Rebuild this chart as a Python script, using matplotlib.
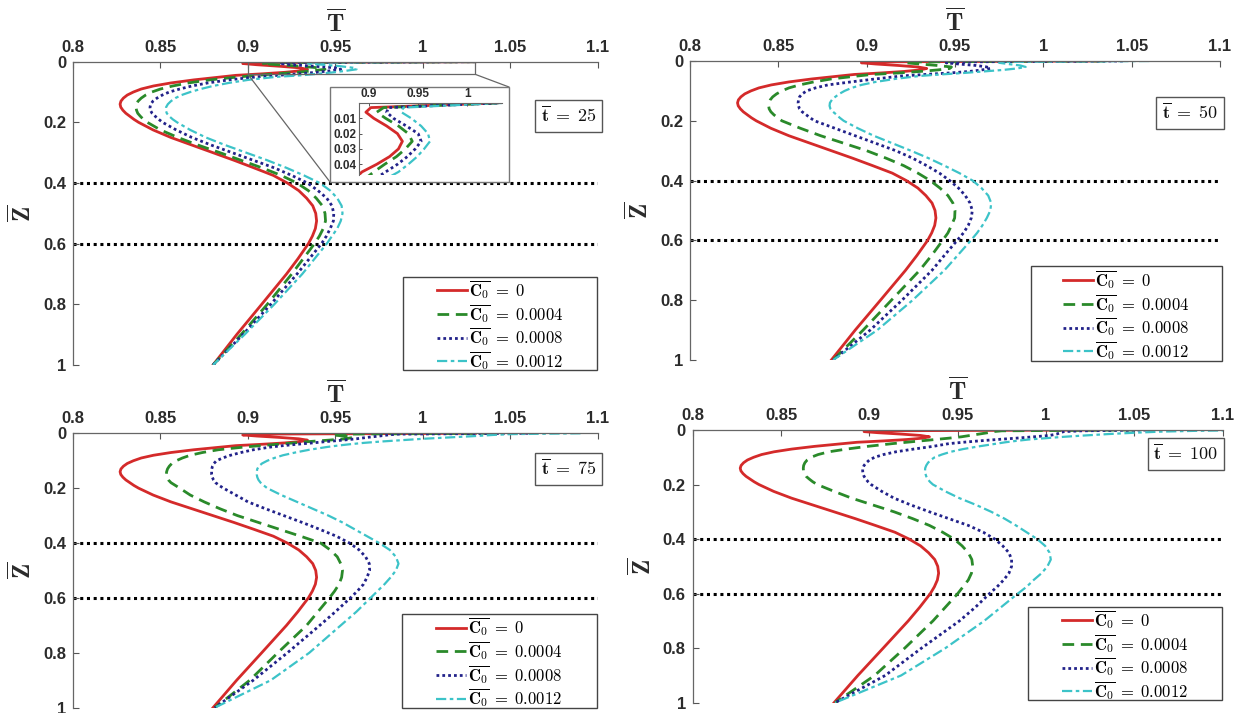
import matplotlib
matplotlib.use('Agg')
import matplotlib.pyplot as plt
from matplotlib.patches import Rectangle, ConnectionPatch

plt.rcParams['font.family'] = 'Liberation Sans'
plt.rcParams['mathtext.fontset'] = 'cm'

# dimensionless height through the layer
z_bar = [0, 0.003, 0.006, 0.01, 0.015, 0.02, 0.025, 0.03, 0.035, 0.04, 0.045,
         0.05, 0.06, 0.07, 0.08, 0.09, 0.1, 0.11, 0.12, 0.13, 0.14, 0.15, 0.16, 0.17, 0.18, 0.19,
         0.2, 0.225, 0.25, 0.275, 0.3, 0.325, 0.35, 0.375, 0.4, 0.425, 0.45, 0.475, 0.5,
         0.525, 0.55, 0.575, 0.6, 0.65, 0.7, 0.8, 0.9, 1.0]

# C0 = 0 profile (same at every time)
t_c0_0 = [1.03, 0.902, 0.897, 0.905, 0.918, 0.929, 0.934, 0.930, 0.921, 0.908, 0.893,
          0.885, 0.869, 0.856, 0.846, 0.839, 0.8345, 0.831, 0.8288, 0.8274, 0.8269, 0.8273, 0.8285, 0.8302, 0.8325, 0.8348,
          0.8375, 0.8458, 0.856, 0.868, 0.880, 0.892, 0.9034, 0.9145, 0.9225, 0.929, 0.9335, 0.937, 0.9387,
          0.9392, 0.9385, 0.9368, 0.9345, 0.9285, 0.922, 0.9078, 0.8935, 0.880]

# t = 25
green_25 = [1.03, 0.915, 0.908, 0.917, 0.930, 0.940, 0.944, 0.937, 0.928, 0.916, 0.905,
            0.895, 0.878, 0.866, 0.857, 0.850, 0.845, 0.8415, 0.839, 0.8372, 0.8362, 0.836, 0.8363, 0.837, 0.8385, 0.8402,
            0.8425, 0.850, 0.860, 0.8715, 0.884, 0.896, 0.908, 0.919, 0.928, 0.9345, 0.939, 0.9425, 0.944,
            0.9443, 0.943, 0.9408, 0.938, 0.9315, 0.925, 0.911, 0.896, 0.880]
blue_25 = [1.03, 0.920, 0.918, 0.925, 0.938, 0.950, 0.953, 0.947, 0.939, 0.929, 0.917,
           0.905, 0.889, 0.877, 0.868, 0.861, 0.855, 0.851, 0.848, 0.8457, 0.8444, 0.844, 0.8442, 0.8452, 0.847, 0.849,
           0.8512, 0.859, 0.868, 0.879, 0.891, 0.903, 0.915, 0.925, 0.934, 0.940, 0.945, 0.948, 0.949,
           0.9488, 0.947, 0.9448, 0.942, 0.935, 0.928, 0.913, 0.897, 0.880]
cyan_25 = [1.035, 0.935, 0.933, 0.943, 0.953, 0.960, 0.962, 0.956, 0.949, 0.940, 0.930,
           0.916, 0.900, 0.889, 0.880, 0.873, 0.867, 0.862, 0.8585, 0.856, 0.8542, 0.8532, 0.853, 0.8536, 0.855, 0.857,
           0.8595, 0.867, 0.876, 0.887, 0.899, 0.911, 0.922, 0.932, 0.941, 0.947, 0.951, 0.9535, 0.954,
           0.953, 0.951, 0.948, 0.945, 0.938, 0.931, 0.915, 0.898, 0.880]

# t = 50
green_50 = [1.035, 0.925, 0.922, 0.930, 0.940, 0.948, 0.947, 0.940, 0.930, 0.918, 0.903,
            0.895, 0.880, 0.870, 0.862, 0.856, 0.852, 0.849, 0.8468, 0.8454, 0.8447, 0.8445, 0.8448, 0.8458, 0.8475, 0.8497,
            0.852, 0.8625, 0.874, 0.887, 0.900, 0.911, 0.921, 0.929, 0.936, 0.9415, 0.946, 0.9488, 0.950,
            0.9498, 0.948, 0.946, 0.943, 0.9368, 0.930, 0.914, 0.898, 0.881]
blue_50 = [1.045, 0.950, 0.945, 0.952, 0.962, 0.968, 0.970, 0.965, 0.958, 0.947, 0.933,
           0.920, 0.905, 0.891, 0.878, 0.871, 0.866, 0.8635, 0.862, 0.8614, 0.8612, 0.8614, 0.862, 0.8635, 0.8658, 0.868,
           0.8705, 0.882, 0.8935, 0.905, 0.9165, 0.926, 0.934, 0.9412, 0.947, 0.952, 0.9558, 0.9585, 0.9598,
           0.9592, 0.9575, 0.9548, 0.9512, 0.944, 0.937, 0.920, 0.902, 0.881]
cyan_50 = [1.06, 0.980, 0.975, 0.980, 0.987, 0.990, 0.985, 0.977, 0.966, 0.955, 0.942,
           0.930, 0.916, 0.905, 0.897, 0.8915, 0.8875, 0.8845, 0.8822, 0.8803, 0.8792, 0.879, 0.8795, 0.881, 0.883, 0.8848,
           0.887, 0.895, 0.904, 0.9145, 0.925, 0.935, 0.944, 0.9525, 0.960, 0.965, 0.9688, 0.9705, 0.970,
           0.968, 0.9655, 0.9625, 0.959, 0.9515, 0.944, 0.926, 0.906, 0.881]

# t = 75
green_75 = [1.04, 0.950, 0.948, 0.955, 0.960, 0.956, 0.946, 0.935, 0.926, 0.917, 0.907,
            0.898, 0.883, 0.874, 0.867, 0.8625, 0.859, 0.8565, 0.855, 0.854, 0.8535, 0.8533, 0.8535, 0.8545, 0.856, 0.8585,
            0.861, 0.867, 0.875, 0.884, 0.894, 0.906, 0.918, 0.930, 0.9415, 0.947, 0.951, 0.953, 0.954,
            0.9535, 0.952, 0.9495, 0.9465, 0.940, 0.9335, 0.917, 0.901, 0.881]
blue_75 = [1.06, 0.985, 0.980, 0.975, 0.968, 0.962, 0.954, 0.945, 0.937, 0.928, 0.920,
           0.913, 0.903, 0.896, 0.890, 0.8855, 0.882, 0.8805, 0.8797, 0.8793, 0.8792, 0.8792, 0.8796, 0.8803, 0.8815, 0.8835,
           0.886, 0.893, 0.900, 0.910, 0.9205, 0.931, 0.941, 0.9505, 0.958, 0.9635, 0.9672, 0.9693, 0.9695,
           0.968, 0.966, 0.9625, 0.9585, 0.950, 0.941, 0.9225, 0.903, 0.881]
cyan_75 = [1.09, 1.05, 1.04, 1.03, 1.015, 1.0, 0.988, 0.976, 0.966, 0.958, 0.951,
           0.945, 0.935, 0.927, 0.920, 0.915, 0.911, 0.908, 0.9062, 0.9053, 0.905, 0.905, 0.9053, 0.906, 0.9072, 0.909,
           0.911, 0.919, 0.928, 0.937, 0.946, 0.954, 0.961, 0.968, 0.975, 0.981, 0.9845, 0.986, 0.9845,
           0.9815, 0.978, 0.974, 0.970, 0.962, 0.953, 0.935, 0.913, 0.881]

# t = 100
green_100 = [1.05, 0.975, 0.970, 0.967, 0.962, 0.957, 0.952, 0.945, 0.937, 0.929, 0.921,
             0.913, 0.899, 0.887, 0.877, 0.871, 0.867, 0.8648, 0.8635, 0.8628, 0.8626, 0.8627, 0.8632, 0.8642, 0.866, 0.868,
             0.8705, 0.880, 0.890, 0.902, 0.914, 0.9245, 0.934, 0.9415, 0.948, 0.9525, 0.956, 0.958, 0.9585,
             0.9578, 0.956, 0.953, 0.950, 0.943, 0.936, 0.920, 0.903, 0.8806]
blue_100 = [1.06, 1.02, 1.01, 1.008, 1.006, 1.002, 0.993, 0.983, 0.972, 0.962, 0.953,
            0.945, 0.936, 0.925, 0.915, 0.908, 0.903, 0.900, 0.8983, 0.8970, 0.8963, 0.8962, 0.8964, 0.897, 0.898, 0.8993,
            0.901, 0.907, 0.914, 0.9235, 0.934, 0.945, 0.956, 0.9645, 0.971, 0.9755, 0.979, 0.9805, 0.9805,
            0.979, 0.976, 0.9723, 0.968, 0.960, 0.951, 0.9295, 0.909, 0.8806]
cyan_100 = [1.12, 1.085, 1.065, 1.05, 1.035, 1.022, 1.01, 1.0, 0.99, 0.983, 0.977,
            0.972, 0.962, 0.953, 0.946, 0.941, 0.937, 0.9347, 0.9332, 0.9322, 0.9316, 0.9315, 0.9317, 0.9322, 0.933, 0.9343,
            0.936, 0.943, 0.951, 0.9605, 0.969, 0.9765, 0.983, 0.989, 0.995, 0.9995, 1.002, 1.0027, 1.0008,
            0.9975, 0.993, 0.989, 0.984, 0.9745, 0.965, 0.943, 0.918, 0.8806]

times = [25, 50, 75, 100]
c0_labels = ['0', '0.0004', '0.0008', '0.0012']
profiles = {25: [t_c0_0, green_25, blue_25, cyan_25],
            50: [t_c0_0, green_50, blue_50, cyan_50],
            75: [t_c0_0, green_75, blue_75, cyan_75],
            100: [t_c0_0, green_100, blue_100, cyan_100]}
x_ticks = [0.8, 0.85, 0.9, 0.95, 1.0, 1.05, 1.1]
z_ticks = [0, 0.2, 0.4, 0.6, 0.8, 1.0]

styles = [dict(color='#d42a2a', ls='-', lw=2.0),
          dict(color='#2a8a2a', ls=(0, (4.2, 2.4)), lw=2.0),
          dict(color='#22228a', ls=(0, (1, 1.1)), lw=2.0),
          dict(color='#3cc3c8', ls=(0, (4.6, 1.6, 1.6, 1.6)), lw=1.6)]

W, H = 1238, 713
# pixel frames: left, right, top, bottom
frames = {25: (73, 598, 61.7, 365), 50: (690, 1220, 61, 360),
          75: (73, 598, 433.3, 707.7), 100: (692.7, 1222.7, 430, 702.7)}
# legend boxes in pixels: left, right, top, bottom
legend_px = {25: (403, 597, 277, 370), 50: (1031, 1222, 266, 361),
             75: (402, 597, 614, 708), 100: (1028, 1222, 607, 700)}
tbox_pos = {25: (0.996, 0.821), 50: (0.996, 0.826), 75: (0.996, 0.87), 100: (0.991, 0.912)}

fig = plt.figure(figsize=(W / 100, H / 100), dpi=100)
txt = '#2b2b2b'
axes = {}
for t in times:
    l, r, tp, b = frames[t]
    ax = fig.add_axes([l / W, 1 - b / H, (r - l) / W, (b - tp) / H])
    axes[t] = ax
    lines = []
    for prof, st, lab in zip(profiles[t], styles, c0_labels):
        ln, = ax.plot(prof, z_bar, label=r'$\overline{\mathbf{C}_{\mathbf{0}}}\;=\;%s$' % lab, **st)
        lines.append(ln)
    ax.axhline(0.4, color='black', ls=(0, (1, 1.2)), lw=2.2, zorder=1)
    ax.axhline(0.6, color='black', ls=(0, (1, 1.2)), lw=2.2, zorder=1)
    ax.set_xlim(0.8, 1.1)
    ax.set_ylim(1, 0)
    ax.xaxis.tick_top()
    ax.xaxis.set_label_position('top')
    ax.set_xticks(x_ticks)
    ax.set_xticklabels(['%g' % v for v in x_ticks])
    ax.set_yticks(z_ticks)
    ax.set_yticklabels(['%g' % v for v in z_ticks])
    ax.tick_params(direction='in', length=4, width=0.8, color='#555555', labelsize=12,
                   labelcolor=txt, pad=5)
    for lbl in ax.get_xticklabels() + ax.get_yticklabels():
        lbl.set_fontweight('bold')
    ax.spines['right'].set_visible(False)
    ax.spines['bottom'].set_visible(False)
    for s in ('left', 'top'):
        ax.spines[s].set_color('#666666')
        ax.spines[s].set_linewidth(0.9)
    ax.set_xlabel(r'$\overline{\mathbf{T}}$', fontsize=18, labelpad=6, color=txt)
    ax.set_ylabel(r'$\overline{\mathbf{Z}}$', fontsize=18, labelpad=5, color=txt)
    ax.text(tbox_pos[t][0], tbox_pos[t][1], r'$\overline{\mathbf{t}}\;=\;\mathbf{%d}$' % t,
            transform=ax.transAxes, ha='right', va='center', fontsize=13, color='#111111',
            bbox=dict(boxstyle='square,pad=0.32', fc='white', ec='#555555', lw=1.0))

    # legend: wide white box with the entries centred in it
    x0, x1, y0, y1 = legend_px[t]
    ax.add_patch(Rectangle((x0 / W, 1 - y1 / H), (x1 - x0) / W, (y1 - y0) / H,
                           transform=fig.transFigure, fc='white', ec='#444444', lw=1.0,
                           zorder=4.5, clip_on=False))
    ax.legend(handles=lines, loc='center',
              bbox_to_anchor=((x0 + x1) / 2 / W, 1 - ((y0 + y1) / 2 + 1.5) / H),
              bbox_transform=fig.transFigure, fontsize=12, frameon=False,
              handlelength=1.8, handletextpad=0.1, labelspacing=0.05, borderpad=0.0)

# zoomed view of the thin layer near the top, t = 25
ax1 = axes[25]
ax1.add_patch(Rectangle((0.9, 0.0), 0.13, 0.042, fill=False, ec='#666666', lw=0.9, zorder=3))
box = Rectangle((330 / W, 1 - 182 / H), 179 / W, 95 / H, transform=fig.transFigure,
                fc='white', ec='#777777', lw=1.0, zorder=1)
fig.patches.append(box)
for xa, xb in [((0.9, 0.042), (330 / W, 1 - 182 / H)), ((1.03, 0.042), (509 / W, 1 - 87 / H))]:
    con = ConnectionPatch(xyA=xa, coordsA=ax1.transData, xyB=xb, coordsB=fig.transFigure,
                          color='#666666', lw=0.9)
    fig.add_artist(con)

ins = fig.add_axes([359 / W, 1 - 175 / H, 143 / W, 72 / H], zorder=2)
for prof, st in zip(profiles[25], styles):
    ins.plot(prof, z_bar, **st)
ins.set_xlim(0.89, 1.035)
ins.set_ylim(0.047, 0)
ins.xaxis.tick_top()
ins.set_xticks([0.9, 0.95, 1.0])
ins.set_xticklabels(['0.9', '0.95', '1'])
ins.set_yticks([0.01, 0.02, 0.03, 0.04])
ins.set_yticklabels(['0.01', '0.02', '0.03', '0.04'])
ins.tick_params(direction='in', length=2.5, width=0.7, color='#555555', labelsize=8.5,
                labelcolor=txt, pad=2)
for lbl in ins.get_xticklabels() + ins.get_yticklabels():
    lbl.set_fontweight('bold')
ins.spines['right'].set_visible(False)
ins.spines['bottom'].set_visible(False)
for s in ('left', 'top'):
    ins.spines[s].set_color('#666666')
    ins.spines[s].set_linewidth(0.8)

fig.savefig('out.png', dpi=100)
